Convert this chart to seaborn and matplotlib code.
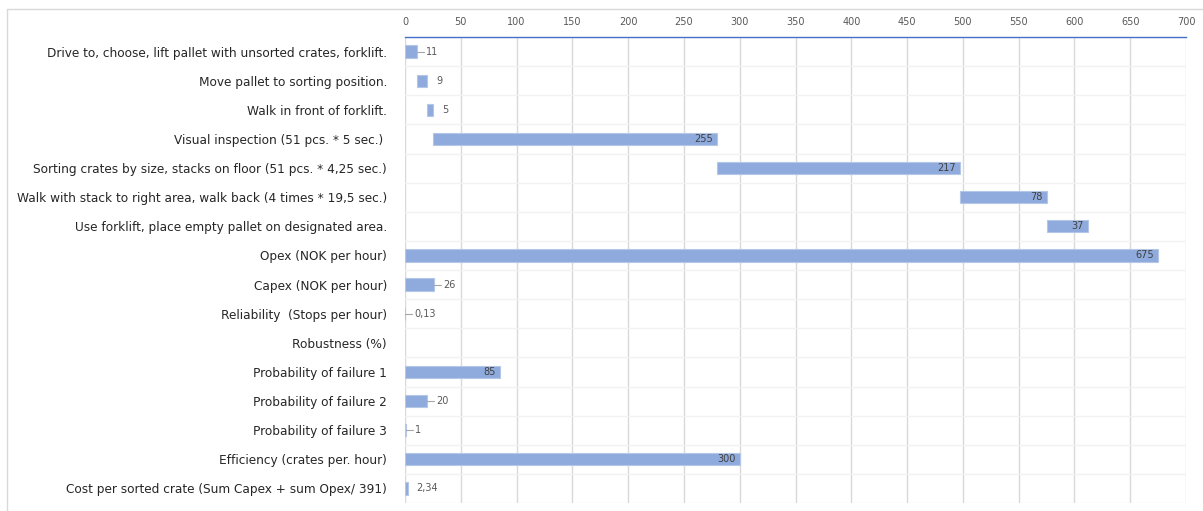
import numpy as np
import pandas as pd
import matplotlib
matplotlib.use("Agg")
import matplotlib.pyplot as plt
import seaborn as sns
from matplotlib.ticker import FixedLocator
from matplotlib.lines import Line2D

# ---- data -------------------------------------------------------------
categories = [
    "Drive to, choose, lift pallet with unsorted crates, forklift.",
    "Move pallet to sorting position.",
    "Walk in front of forklift.",
    "Visual inspection (51 pcs. * 5 sec.) ",
    "Sorting crates by size, stacks on floor (51 pcs. * 4,25 sec.)",
    "Walk with stack to right area, walk back (4 times * 19,5 sec.)",
    "Use forklift, place empty pallet on designated area.",
    "Opex (NOK per hour)",
    "Capex (NOK per hour)",
    "Reliability  (Stops per hour)",
    "Robustness (%)",
    "Probability of failure 1",
    "Probability of failure 2",
    "Probability of failure 3",
    "Efficiency (crates per. hour)",
    "Cost per sorted crate (Sum Capex + sum Opex/ 391)",
]
values = [11, 9, 5, 255, 217, 78, 37, 675, 26, 0.13, np.nan, 85, 20, 1, 300, 2.34]
# the first seven steps are chained one after another (cumulative time line)
chained_steps = 7
value_labels = ["11", "9", "5", "255", "217", "78", "37", "675", "26", "0,13", "",
                "85", "20", "1", "300", "2,34"]
x_ticks = list(range(0, 701, 50))

# ---- derived offsets for the chained steps ---------------------------
offsets = []
running = 0.0
for i, v in enumerate(values):
    if i < chained_steps:
        offsets.append(running)
        running += v
    else:
        offsets.append(0.0)

df = pd.DataFrame({"task": categories, "value": values})

# ---- styling ---------------------------------------------------------
sns.set_theme(style="white")
plt.rcParams["font.family"] = ["DejaVu Sans"]

BAR = "#8FAADC"
BAR_EDGE = "#B4C7E7"
TEXT = "#262626"
TICK = "#595959"
VAL = "#404040"

fig = plt.figure(figsize=(12.03, 5.11), dpi=100)
ax = fig.add_axes([405 / 1203, 1 - 503 / 511, (1186 - 405) / 1203, (503 - 37) / 511])

sns.barplot(data=df, y="task", x="value", order=categories, orient="h",
            color=BAR, saturation=1, width=0.42, edgecolor=BAR_EDGE,
            linewidth=0.8, errorbar=None, ax=ax)

# shift the chained steps so each starts where the previous one ended
for patch in ax.patches:
    idx = int(round(patch.get_y() + patch.get_height() / 2))
    patch.set_x(offsets[idx])

ax.set_xlim(0, 700)
ax.set_ylim(len(categories) - 0.5, -0.5)
ax.xaxis.set_major_locator(FixedLocator(x_ticks))
ax.xaxis.tick_top()
ax.tick_params(axis="x", which="both", length=0, pad=7, labelsize=7, labelcolor=TICK)
ax.tick_params(axis="y", which="both", length=0, pad=13, labelsize=8.7, labelcolor=TEXT)
ax.set_xlabel("")
ax.set_ylabel("")

# grid: vertical lines at ticks, faint separators between rows
ax.yaxis.set_minor_locator(FixedLocator(np.arange(-0.5, len(categories), 1.0)))
ax.grid(axis="x", which="major", color="#D9D9D9", linewidth=1.0)
ax.grid(axis="y", which="minor", color="#F2F2F2", linewidth=1.0)
ax.grid(axis="y", which="major", visible=False)
ax.set_axisbelow(True)

for side in ("left", "right", "bottom"):
    ax.spines[side].set_visible(False)
ax.spines["top"].set_color("#4472C4")
ax.spines["top"].set_linewidth(1.0)

# value labels: inside the bar end for long bars, outside for short ones
px = 700 / (1186 - 405)  # data units per pixel
leader = {"11", "26", "0,13", "20", "1"}
for i, (v, lab) in enumerate(zip(values, value_labels)):
    if not lab:
        continue
    end = offsets[i] + v
    if v >= 30:
        ax.text(end - 4 * px, i, lab, ha="right", va="center",
                fontsize=7, color=VAL)
    else:
        if lab in leader:
            ax.plot([end, end + 7 * px], [i, i], color="#A6A6A6", linewidth=0.8)
        ax.text(end + 9 * px, i, lab, ha="left", va="center",
                fontsize=7, color=TICK)

# light outer frame of the chart area
fig.add_artist(Line2D([7 / 1203, 7 / 1203], [0, 1 - 9 / 511],
                      transform=fig.transFigure, color="#D9D9D9", linewidth=1))
fig.add_artist(Line2D([7 / 1203, 1], [1 - 9 / 511, 1 - 9 / 511],
                      transform=fig.transFigure, color="#D9D9D9", linewidth=1))

fig.savefig("out.png", dpi=100, facecolor="white")
